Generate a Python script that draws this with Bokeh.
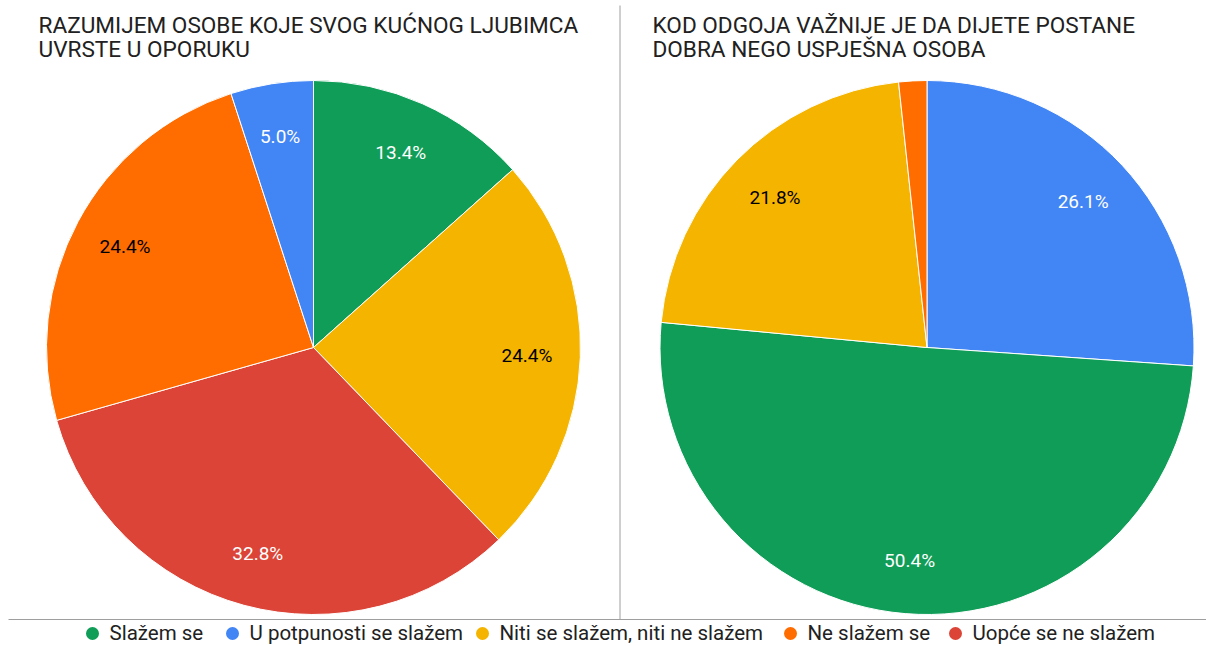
import math
from bokeh.plotting import figure
from bokeh.models import Range1d, ColumnDataSource
from bokeh.core.properties import value
from bokeh.embed import file_html
from bokeh.resources import INLINE

# ---------------- data ----------------
categories = ["Slažem se", "U potpunosti se slažem", "Niti se slažem, niti ne slažem",
              "Ne slažem se", "Uopće se ne slažem"]
colors = ["#0F9D58", "#4285F4", "#F4B400", "#FF6D01", "#DB4437"]
label_colors = ["white", "white", "black", "black", "white"]

left_title = ["RAZUMIJEM OSOBE KOJE SVOG KUĆNOG LJUBIMCA", "UVRSTE U OPORUKU"]
left_values = [13.4, 5.0, 24.4, 24.4, 32.8]          # % per category
left_order = [0, 2, 4, 3, 1]                          # clockwise from 12 o'clock

right_title = ["KOD ODGOJA VAŽNIJE JE DA DIJETE POSTANE", "DOBRA NEGO USPJEŠNA OSOBA"]
right_values = [50.4, 26.1, 21.8, 1.7, 0.0]
right_order = [1, 0, 2, 3, 4]

# ---------------- layout ----------------
W, H = 1206, 646
FONT = "Roboto"
p = figure(width=W, height=H, x_range=Range1d(0, W), y_range=Range1d(0, H),
           x_axis_type=None, y_axis_type=None, toolbar_location=None,
           output_backend="svg", min_border=0)
p.outline_line_color = None
p.grid.visible = False
p.background_fill_color = "white"
p.border_fill_color = "white"


def Y(py):
    return H - py


def draw_pie(cx, cy, r, values, order, title, title_x):
    total = sum(values)
    starts, ends, cols, lx, ly, lt, lc = [], [], [], [], [], [], []
    cum = 0.0
    for i in order:
        v = values[i]
        if v <= 0:
            continue
        a0 = math.pi / 2 - 2 * math.pi * cum / total
        a1 = math.pi / 2 - 2 * math.pi * (cum + v) / total
        starts.append(a0)
        ends.append(a1)
        cols.append(colors[i])
        mid = (a0 + a1) / 2
        if v / total >= 0.03:
            lx.append(cx + 0.80 * r * math.cos(mid))
            ly.append(Y(cy) + 0.80 * r * math.sin(mid))
            lt.append(f"{v:.1f}%")
            lc.append(label_colors[i])
        cum += v
    src = ColumnDataSource(dict(x=[cx] * len(starts), y=[Y(cy)] * len(starts),
                                s=starts, e=ends, c=cols))
    p.wedge(x="x", y="y", radius=r, start_angle="s", end_angle="e",
            direction="clock", fill_color="c", line_color="white",
            line_width=1, source=src)
    lsrc = ColumnDataSource(dict(x=lx, y=ly, t=lt, c=lc))
    p.text(x="x", y="y", text="t", text_color="c", text_align="center",
           text_baseline="middle", text_font=value(FONT),
           text_font_size="19px", source=lsrc)
    p.text(x=[title_x, title_x], y=[Y(25), Y(49)], text=title,
           text_color="#212121", text_align="left", text_baseline="middle",
           text_font=value(FONT), text_font_size="22.6px")


draw_pie(313, 347, 267, left_values, left_order, left_title, 38)
draw_pie(926.5, 347, 267, right_values, right_order, right_title, 652)

# separators
p.line(x=[619.5, 619.5], y=[Y(5), Y(619)], line_color="#9e9e9e", line_width=1)
p.line(x=[8, W], y=[Y(619), Y(619)], line_color="#9e9e9e", line_width=1)

# legend
legend_x = [92, 232, 482, 790, 955]
p.scatter(x=legend_x, y=[Y(633)] * 5, size=13, marker="circle",
          fill_color=colors, line_color=None)
p.text(x=[x + 17 for x in legend_x], y=[Y(632)] * 5, text=categories,
       text_color="#212121", text_align="left", text_baseline="middle",
       text_font=value(FONT), text_font_size="20.5px")

open("out.html", "w").write(file_html(p, INLINE))
